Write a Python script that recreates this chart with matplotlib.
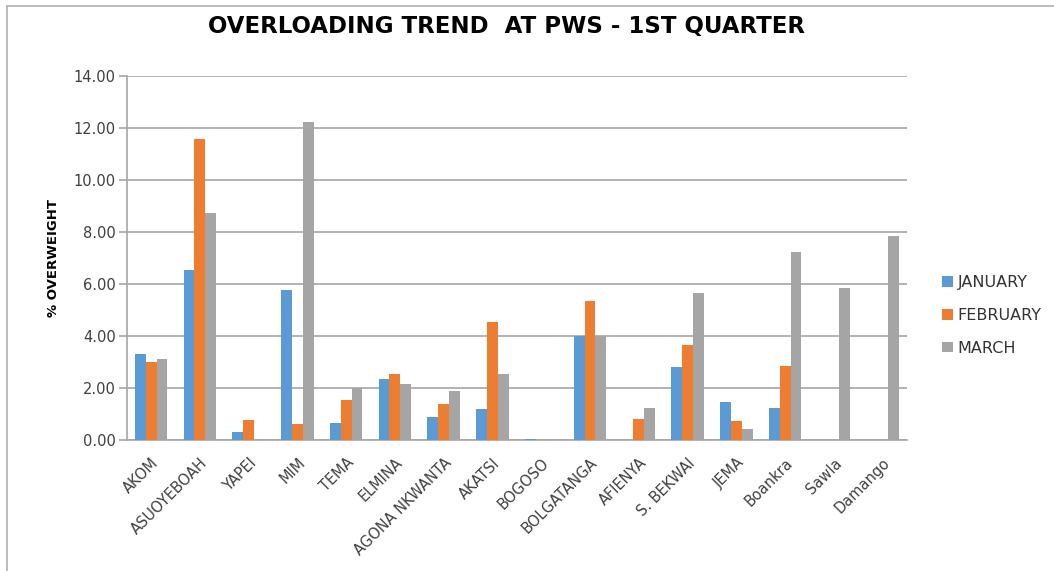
import matplotlib
matplotlib.use("Agg")
import matplotlib.pyplot as plt
import numpy as np
from matplotlib.patches import Patch
from matplotlib.lines import Line2D

categories = ["AKOM", "ASUOYEBOAH", "YAPEI", "MIM", "TEMA", "ELMINA",
              "AGONA NKWANTA", "AKATSI", "BOGOSO", "BOLGATANGA", "AFIENYA",
              "S. BEKWAI", "JEMA", "Boankra", "Sawla", "Damango"]
january = [3.30, 6.52, 0.31, 5.76, 0.67, 2.34, 0.87, 1.18, 0.05, 4.01, 0.00,
           2.80, 1.47, 1.22, 0.00, 0.00]
february = [3.01, 11.56, 0.77, 0.60, 1.54, 2.55, 1.38, 4.53, 0.00, 5.35, 0.81,
            3.67, 0.72, 2.86, 0.00, 0.00]
march = [3.11, 8.71, 0.00, 12.23, 2.01, 2.14, 1.88, 2.55, 0.00, 4.01, 1.22,
         5.65, 0.41, 7.23, 5.85, 7.85]
series_names = ["JANUARY", "FEBRUARY", "MARCH"]
colors = ["#5B9BD5", "#ED7D31", "#A5A5A5"]
yticks = [0, 2, 4, 6, 8, 10, 12, 14]

plt.rcParams['font.family'] = ['DejaVu Sans']

W, H = 1054, 571
fig = plt.figure(figsize=(W / 100, H / 100), dpi=100)
ax = fig.add_axes([126.7 / W, 1 - 440 / H, (907 - 126.7) / W, (440 - 75.7) / H])

x = np.arange(len(categories))
bw = 0.223
for i, (vals, c) in enumerate(zip([january, february, march], colors)):
    ax.bar(x + (i - 1) * bw, vals, width=bw, color=c, zorder=3, label=series_names[i])

ax.set_xlim(-0.5, len(categories) - 0.5)
ax.set_ylim(0, 14)
ax.set_yticks(yticks)
ax.set_yticklabels([f"{v:.2f}" for v in yticks], fontsize=10.5, color="#404040")
ax.yaxis.grid(True, color="#A6A6A6", linewidth=1.2, zorder=0)
ax.set_axisbelow(True)
for s in ["top", "right"]:
    ax.spines[s].set_visible(False)
for s in ["left", "bottom"]:
    ax.spines[s].set_color("#A6A6A6")
    ax.spines[s].set_linewidth(1.2)
ax.tick_params(axis="y", length=6, color="#A6A6A6", width=1.2, pad=2)
ax.tick_params(axis="x", length=0, pad=11)
ax.set_xticks(x)
ax.set_xticklabels(categories, rotation=45, ha="right", rotation_mode="anchor",
                   fontsize=10.5, color="#404040")

ax.set_ylabel("% OVERWEIGHT", fontsize=9.5, fontweight="bold", labelpad=10)

fig.text(507 / W, 1 - 26 / H, "OVERLOADING TREND  AT PWS - 1ST QUARTER",
         ha="center", va="center", fontsize=16.5, fontweight="bold")

handles = [Patch(facecolor=c) for c in colors]
fig.legend(handles, series_names, loc="center left",
           bbox_to_anchor=(928 / W, 1 - 315.5 / H), frameon=False, fontsize=11.5,
           handlelength=0.65, handleheight=0.65, handletextpad=0.3,
           labelspacing=1.1, labelcolor="#333333")

# outer chart border (top and left visible)
fig.add_artist(Line2D([7 / W, 7 / W], [0, 1 - 5.7 / H], transform=fig.transFigure,
                      color="#B0B0B0", linewidth=1.2))
fig.add_artist(Line2D([7 / W, 1], [1 - 5.7 / H, 1 - 5.7 / H], transform=fig.transFigure,
                      color="#B0B0B0", linewidth=1.2))

fig.savefig("out.png", dpi=100)
